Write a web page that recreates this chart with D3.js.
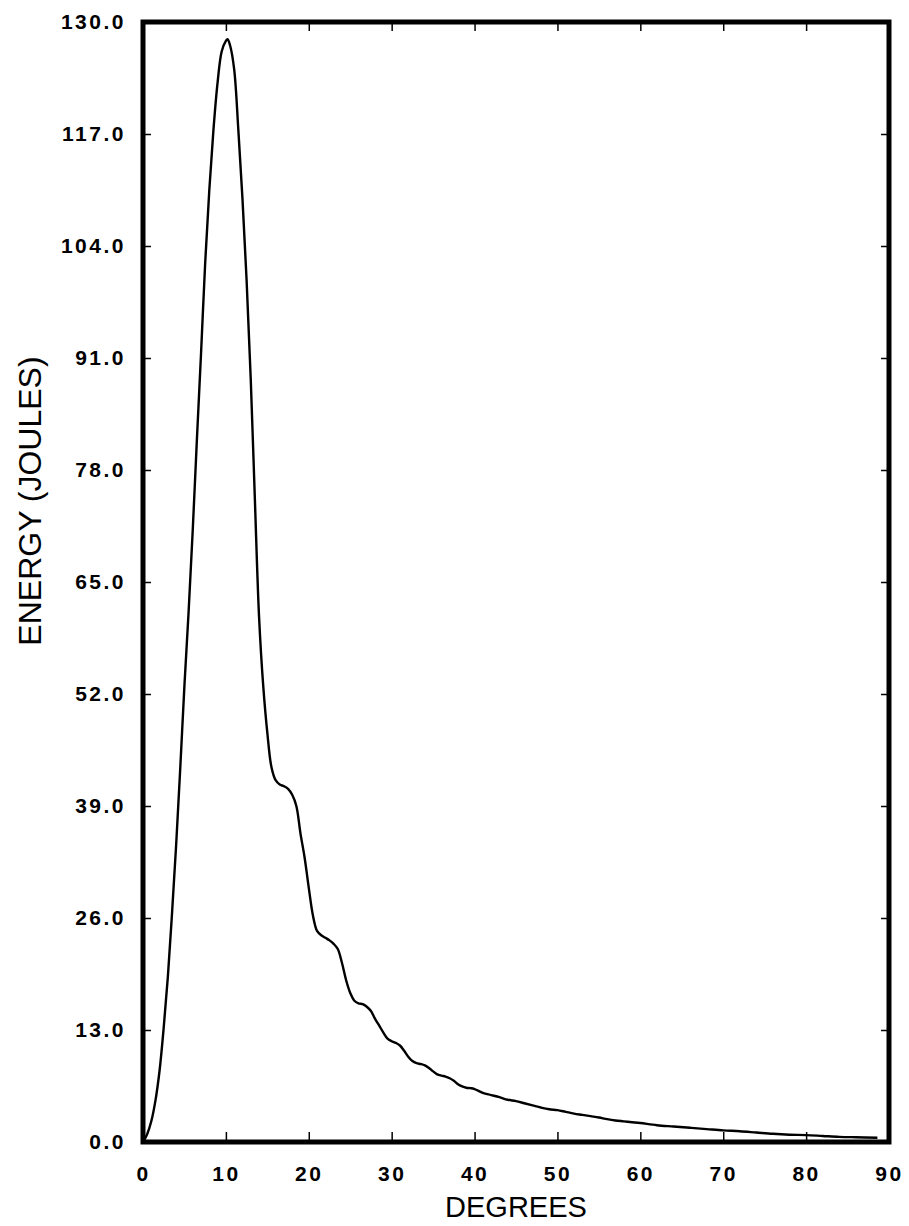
<!DOCTYPE html>
<html>
<head>
<meta charset="utf-8">
<script src="https://cdn.jsdelivr.net/npm/d3@7"></script>
<style>
  body { margin: 0; background: #fff; }
  svg { display: block; }
</style>
</head>
<body>
<div id="chart"></div>
<script>
// angle in degrees
var degrees = [0, 0.5, 1.0, 1.5, 2.0, 2.5, 3.0, 3.5, 4.0, 4.5, 5.0, 5.5, 6.0, 6.5, 7.0, 7.5, 8.0, 8.5, 9.0, 9.5, 10.0, 10.2,
  10.5, 11.0, 11.5, 12.0, 12.5, 13.0, 13.5, 14.0, 14.5, 15.0, 15.5, 16.0, 16.5, 17.0, 17.5, 18.0, 18.5, 19.0, 19.5, 20.0,
  20.5, 21.0, 21.5, 22.0, 22.5, 23.0, 23.5, 24.0, 24.5, 25.0, 25.5, 26.0, 26.5, 27.0, 27.5, 28.0, 28.5, 29.0, 29.5, 30.0,
  30.5, 31.0, 31.5, 32.0, 32.5, 33.0, 33.5, 34.0, 34.5, 35.0, 35.5, 36.0, 36.5, 37.0, 37.5, 38.0, 38.5, 39.0, 39.5, 40.0,
  41, 42, 43, 44, 45, 46, 47, 48, 49, 50, 51, 52, 53, 54, 55, 56, 57, 58, 59, 60,
  62, 64, 66, 68, 70, 72, 74, 76, 78, 80, 82, 84, 86, 88.6];
// energy in joules
var energy = [0, 0.9, 2.4, 4.8, 8.3, 13.3, 19.2, 26.5, 34.5, 43.5, 53.0, 61.5, 71.0, 81.5, 91.5, 102.0, 110.5, 117.5, 123.0, 126.6, 127.8, 128.0,
  127.3, 124.5, 117.5, 109.5, 100.0, 88.5, 74.5, 61.0, 53.0, 47.5, 43.5, 42.0, 41.5, 41.3, 41.0, 40.3, 39.0, 35.8, 33.0, 29.5,
  26.3, 24.5, 24.0, 23.7, 23.4, 23.0, 22.4, 20.8, 18.8, 17.3, 16.4, 16.1, 16.0, 15.7, 15.2, 14.3, 13.5, 12.7, 12.0, 11.7,
  11.5, 11.2, 10.6, 9.9, 9.4, 9.15, 9.05, 8.9, 8.6, 8.2, 7.85, 7.7, 7.6, 7.4, 7.1, 6.7, 6.45, 6.3, 6.25, 6.15,
  5.7, 5.45, 5.2, 4.9, 4.75, 4.5, 4.25, 4.0, 3.8, 3.7, 3.5, 3.3, 3.15, 3.0, 2.85, 2.65, 2.5, 2.4, 2.3, 2.2,
  1.95, 1.8, 1.65, 1.5, 1.35, 1.25, 1.1, 0.95, 0.85, 0.8, 0.7, 0.6, 0.55, 0.5];

var xTicks = [0, 10, 20, 30, 40, 50, 60, 70, 80, 90];
var yTicks = [0, 13, 26, 39, 52, 65, 78, 91, 104, 117, 130];

var drawChart = function()
{
  var W = 909, H = 1226;
  var margin = {left: 143, top: 22, right: 20, bottom: 84};
  var width = W - margin.left - margin.right;
  var height = H - margin.top - margin.bottom;

  var svg = d3.select("#chart").append("svg")
              .attr("width", W)
              .attr("height", H);

  var g = svg.append("g")
             .attr("transform", "translate(" + margin.left + "," + margin.top + ")");

  var x = d3.scaleLinear().domain([0, 90]).range([0, width]);
  var y = d3.scaleLinear().domain([0, 130]).range([height, 0]);

  // left axis, labels
  g.append("g")
   .attr("class", "axis")
   .call(d3.axisLeft(y).tickValues(yTicks).tickSize(-8).tickSizeOuter(0).tickPadding(17)
           .tickFormat(d3.format(".1f")));

  // bottom axis, labels
  g.append("g")
   .attr("class", "axis")
   .attr("transform", "translate(0," + height + ")")
   .call(d3.axisBottom(x).tickValues(xTicks).tickSize(-10).tickSizeOuter(0).tickPadding(24));

  // top and right: ticks only
  g.append("g")
   .attr("class", "axis")
   .call(d3.axisTop(x).tickValues(xTicks).tickSize(-9).tickSizeOuter(0).tickFormat(""));
  g.append("g")
   .attr("class", "axis")
   .attr("transform", "translate(" + width + ",0)")
   .call(d3.axisRight(y).tickValues(yTicks).tickSize(-8).tickSizeOuter(0).tickFormat(""));

  g.selectAll(".axis .domain").remove();
  g.selectAll(".axis line").attr("stroke", "#000").attr("stroke-width", 1.5);
  g.selectAll(".axis text")
   .attr("fill", "#000")
   .attr("font-family", "Liberation Sans, Arial, sans-serif")
   .attr("font-weight", "bold")
   .attr("font-size", 21)
   .attr("letter-spacing", 2.5);

  var data = degrees.map(function(d, i){
    return {deg: d, e: energy[i]};
  });

  var line = d3.line()
               .x(function(d){ return x(d.deg); })
               .y(function(d){ return y(d.e); })
               .curve(d3.curveCatmullRom);

  g.append("path")
   .datum(data)
   .attr("d", line)
   .attr("fill", "none")
   .attr("stroke", "#000")
   .attr("stroke-width", 2.4);

  // frame
  g.append("rect")
   .attr("x", 0)
   .attr("y", 0)
   .attr("width", width)
   .attr("height", height)
   .attr("fill", "none")
   .attr("stroke", "#000")
   .attr("stroke-width", 5);

  // axis titles
  svg.append("text")
     .text("DEGREES")
     .attr("x", margin.left + width / 2)
     .attr("y", 1217)
     .attr("text-anchor", "middle")
     .attr("font-family", "Liberation Sans, Arial, sans-serif")
     .attr("font-size", 29)
     .attr("fill", "#000");

  svg.append("text")
     .text("ENERGY (JOULES)")
     .attr("transform", "translate(41,501) rotate(-90)")
     .attr("text-anchor", "middle")
     .attr("font-family", "Liberation Sans, Arial, sans-serif")
     .attr("font-size", 32)
     .attr("fill", "#000");
};

drawChart();
</script>
</body>
</html>
